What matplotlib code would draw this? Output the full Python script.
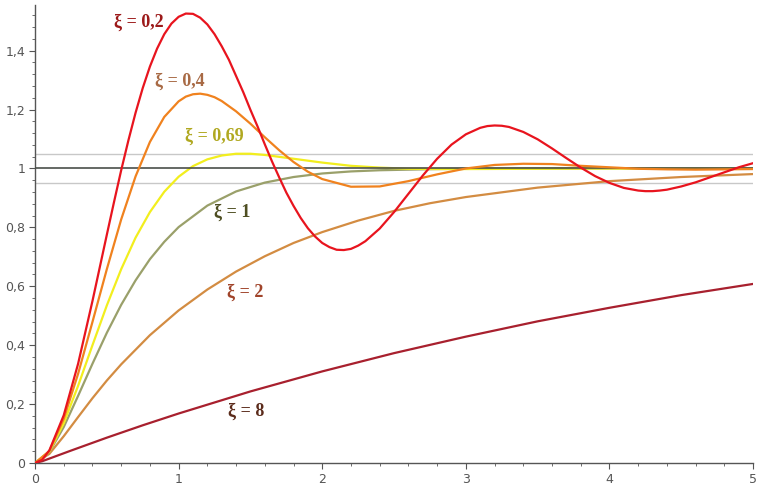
import numpy as np
import matplotlib
matplotlib.use("Agg")
from matplotlib import pyplot as plt
from matplotlib.ticker import MultipleLocator, FuncFormatter

# step responses (t in s)
t_02 = [0, 0.05, 0.1, 0.2, 0.3, 0.4, 0.5, 0.55, 0.6, 0.65, 0.7, 0.75, 0.8, 0.85, 0.9, 0.95, 1.0, 1.05,
        1.1, 1.15, 1.2, 1.25, 1.3, 1.35, 1.4, 1.45, 1.5, 1.55, 1.6, 1.65, 1.7, 1.75, 1.8, 1.85, 1.9, 1.95,
        2.0, 2.05, 2.1, 2.15, 2.2, 2.25, 2.3, 2.4, 2.5, 2.6, 2.7, 2.8, 2.9, 3.0, 3.1, 3.15, 3.2, 3.25,
        3.3, 3.4, 3.5, 3.6, 3.7, 3.8, 3.9, 4.0, 4.1, 4.2, 4.25, 4.3, 4.35, 4.4, 4.5, 4.6, 4.7, 4.8,
        4.9, 5.0]
y_02 = [0, 0.011, 0.043, 0.162, 0.337, 0.550, 0.775, 0.886, 0.994, 1.095, 1.189, 1.273, 1.346, 1.407,
        1.456, 1.492, 1.515, 1.526, 1.525, 1.512, 1.489, 1.456, 1.415, 1.369, 1.314, 1.259, 1.199, 1.142,
        1.082, 1.024, 0.970, 0.918, 0.873, 0.832, 0.797, 0.769, 0.747, 0.733, 0.724, 0.723, 0.727, 0.738,
        0.753, 0.796, 0.852, 0.914, 0.976, 1.033, 1.081, 1.116, 1.138, 1.144, 1.146, 1.145, 1.141, 1.124,
        1.099, 1.068, 1.035, 1.003, 0.974, 0.951, 0.934, 0.925, 0.923, 0.923, 0.925, 0.928, 0.939, 0.953,
        0.970, 0.987, 1.004, 1.018]

t_04 = [0, 0.1, 0.2, 0.3, 0.4, 0.5, 0.6, 0.7, 0.8, 0.9, 1.0, 1.05, 1.1, 1.15, 1.2, 1.25, 1.3, 1.4, 1.5,
        1.6, 1.7, 1.8, 1.9, 2.0, 2.2, 2.4, 2.6, 2.8, 3.0, 3.2, 3.4, 3.6, 3.8, 4.0, 4.2, 4.4, 4.6, 4.8, 5.0]
y_04 = [0, 0.041, 0.150, 0.303, 0.479, 0.658, 0.827, 0.973, 1.090, 1.175, 1.228, 1.244, 1.252, 1.254,
        1.250, 1.242, 1.229, 1.194, 1.152, 1.106, 1.062, 1.022, 0.989, 0.964, 0.938, 0.939, 0.957, 0.980,
        1.000, 1.012, 1.016, 1.015, 1.009, 1.004, 0.999, 0.997, 0.996, 0.997, 0.998]

t_069 = [0, 0.1, 0.2, 0.3, 0.4, 0.5, 0.6, 0.7, 0.8, 0.9, 1.0, 1.1, 1.2, 1.3, 1.4, 1.5, 1.6, 1.8, 2.0,
         2.2, 2.4, 2.6, 2.8, 3.0, 3.5, 4.0, 4.5, 5.0]
y_069 = [0, 0.039, 0.135, 0.262, 0.400, 0.535, 0.658, 0.765, 0.852, 0.921, 0.972, 1.008, 1.031, 1.044,
         1.050, 1.050, 1.046, 1.033, 1.020, 1.009, 1.003, 0.999, 0.998, 0.998, 0.999, 1.0, 1.0, 1.0]

t_1 = [0, 0.1, 0.2, 0.3, 0.4, 0.5, 0.6, 0.7, 0.8, 0.9, 1.0, 1.2, 1.4, 1.6, 1.8, 2.0, 2.2, 2.4, 2.6,
       2.8, 3.0, 3.5, 4.0, 5.0]
y_1 = [0, 0.037, 0.122, 0.228, 0.337, 0.442, 0.537, 0.620, 0.692, 0.751, 0.801, 0.874, 0.922, 0.952,
       0.971, 0.983, 0.990, 0.994, 0.996, 0.998, 0.999, 1.0, 1.0, 1.0]

t_2 = [0, 0.1, 0.2, 0.3, 0.4, 0.5, 0.6, 0.8, 1.0, 1.2, 1.4, 1.6, 1.8, 2.0, 2.25, 2.5, 2.75, 3.0, 3.5,
       4.0, 4.5, 5.0]
y_2 = [0, 0.031, 0.091, 0.156, 0.220, 0.280, 0.335, 0.434, 0.518, 0.589, 0.650, 0.702, 0.747, 0.784,
       0.823, 0.856, 0.882, 0.903, 0.935, 0.957, 0.971, 0.981]

t_8 = [0, 0.05, 0.1, 0.25, 0.5, 0.75, 1.0, 1.5, 2.0, 2.5, 3.0, 3.5, 4.0, 4.5, 5.0]
y_8 = [0, 0.006, 0.015, 0.042, 0.086, 0.128, 0.168, 0.243, 0.311, 0.373, 0.429, 0.481, 0.527, 0.570,
       0.608]

labels = ['ξ = 0,2', 'ξ = 0,4', 'ξ = 0,69', 'ξ = 1', 'ξ = 2', 'ξ = 8']
label_x = [0.72, 1.01, 1.25, 1.37, 1.46, 1.47]
label_y = [1.497, 1.296, 1.109, 0.85, 0.578, 0.177]

curve_colors = ['#e8141e', '#f0821e', '#f2ee1e', '#9aa06a', '#d38c42', '#a8202e']
text_colors = ['#9c1a1a', '#a86a45', '#b0a820', '#4e4e22', '#a0442a', '#5c2c1c']
z_order = [6, 5, 4, 3, 2, 2]

fig = plt.figure(figsize=(7.68, 4.87), dpi=100)
ax = fig.add_axes([0.0456, 0.0493, 0.935, 0.9404])

# reference band +-5 %
ax.plot([0, 5], [1.05, 1.05], color='#c8c8c8', lw=1.0, zorder=1)
ax.plot([0, 5], [0.95, 0.95], color='#c8c8c8', lw=1.0, zorder=1)
ax.plot([0, 5], [1, 1], color='#4a4f4a', lw=1.2, zorder=4.5)

series = [(t_02, y_02), (t_04, y_04), (t_069, y_069), (t_1, y_1), (t_2, y_2), (t_8, y_8)]
for i, (tt, yy) in enumerate(series):
    ax.plot(tt, yy, color=curve_colors[i], lw=1.6, zorder=z_order[i], solid_joinstyle='round')

for i in range(len(labels)):
    ax.text(label_x[i], label_y[i], labels[i], color=text_colors[i], fontsize=13,
            fontweight='bold', family='Liberation Serif', ha='center', va='center')

ax.set_xlim(0, 5)
ax.set_ylim(0, 1.555)
ax.xaxis.set_major_locator(MultipleLocator(1))
ax.xaxis.set_minor_locator(MultipleLocator(0.2))
ax.yaxis.set_major_locator(MultipleLocator(0.2))
ax.yaxis.set_minor_locator(MultipleLocator(0.04))
ax.xaxis.set_major_formatter(FuncFormatter(lambda v, p: ('%g' % v).replace('.', ',')))
ax.yaxis.set_major_formatter(FuncFormatter(lambda v, p: ('%g' % round(v, 2)).replace('.', ',')))

for s in ['top', 'right']:
    ax.spines[s].set_visible(False)
for s in ['left', 'bottom']:
    ax.spines[s].set_color('#555555')
    ax.spines[s].set_linewidth(1.0)
ax.tick_params(which='major', direction='out', length=4, color='#555555', labelcolor='#555555',
               labelsize=9, pad=3)
ax.tick_params(which='minor', direction='out', length=2.5, color='#555555')

fig.savefig('out.png', dpi=100)
